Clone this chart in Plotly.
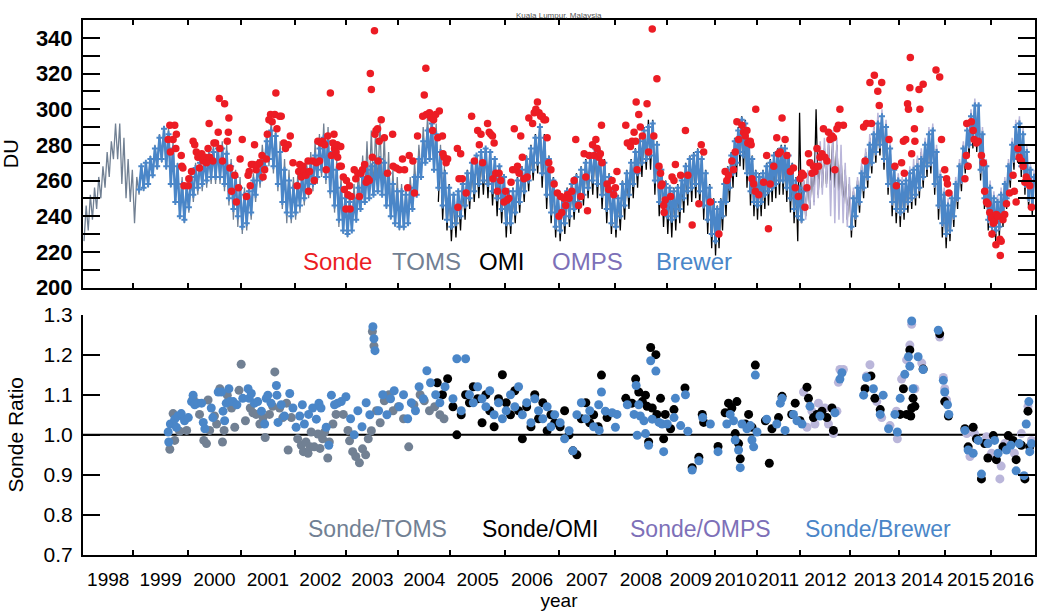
import numpy as np
import plotly.graph_objects as go

# ---------------- axis geometry (year -> axis position, non-uniform as in the original) -------------
YEAR_EDGES = list(range(1998, 2018))
AXIS_EDGES = [0, 50.5, 105, 158.5, 212, 264, 316, 368, 423, 477, 533, 585, 633, 675, 719, 769, 818, 864, 910, 954]
YEAR_LABELS = [str(y) for y in range(1998, 2017)]

# ---------------- satellite / Brewer monthly low-high envelopes (DU) ----------------
toms_start = 1998.0
toms_lo = [226, 232, 238, 244, 250, 256, 262, 272, 272, 258, 250, 248,
           236, 252, 254, 256, 262, 266, 270, 266, 256, 248, 240, 236,
           242, 248, 252, 254, 256, 258, 258, 258, 254, 246, 238, 234,
           230, 232, 238, 248, 256, 264, 268, 264, 254, 244, 236, 236,
           238, 242, 246, 250, 254, 258, 262, 258, 250, 242, 234, 230,
           228, 232, 238, 244, 250, 252, 254, 256, 252, 244, 238, 234,
           232, 232, 236, 244, 252, 262, 270, 272, 266, 256, 248]
toms_hi = [246, 252, 256, 262, 268, 276, 282, 292, 292, 284, 272, 266,
           262, 268, 270, 274, 280, 286, 290, 290, 282, 270, 262, 258,
           266, 270, 274, 276, 278, 280, 282, 282, 280, 272, 266, 262,
           256, 258, 264, 272, 280, 288, 294, 290, 282, 272, 266, 262,
           264, 268, 272, 276, 282, 286, 292, 290, 282, 272, 262, 256,
           252, 258, 266, 274, 282, 288, 290, 292, 286, 276, 266, 262,
           258, 256, 262, 270, 280, 290, 296, 298, 292, 280, 272]

omi_start = 2004.75
omi_lo = [248, 238, 232,
          226, 228, 232, 238, 244, 248, 250, 252, 250, 246, 240, 236,
          228, 230, 236, 242, 248, 254, 260, 264, 256, 244, 236, 228,
          226, 230, 234, 238, 242, 246, 250, 252, 250, 244, 236, 230,
          228, 232, 238, 244, 250, 256, 262, 266, 266, 252, 240, 234,
          230, 228, 232, 236, 242, 246, 248, 250, 246, 238, 230, 222,
          218, 222, 232, 240, 248, 256, 262, 268, 266, 256, 246, 240,
          238, 240, 244, 246, 248, 250, 252, 252, 248, 242, 236, 226,
          236, 240, 244, 248, 252, 256, 258, 260, 256, 250, 244, 238,
          228, 234, 242, 250, 256, 264, 270, 274, 266, 252, 240, 236,
          234, 238, 242, 244, 246, 250, 256, 262, 264, 252, 238, 228,
          222, 226, 234, 244, 254, 264, 274, 278, 276, 260, 244, 232,
          228, 226, 228, 234, 244, 256, 266, 270, 262, 252, 244, 240]
omi_hi = [276, 266, 258,
          252, 254, 260, 266, 270, 274, 276, 278, 276, 272, 266, 262,
          254, 256, 262, 268, 274, 280, 286, 292, 286, 274, 262, 254,
          250, 256, 260, 264, 268, 272, 276, 280, 278, 272, 264, 256,
          252, 260, 266, 272, 278, 284, 290, 294, 294, 282, 268, 260,
          256, 256, 258, 262, 270, 274, 276, 278, 274, 266, 258, 250,
          246, 250, 260, 268, 276, 284, 290, 296, 294, 284, 274, 266,
          264, 266, 270, 272, 276, 278, 280, 280, 276, 270, 262, 298,
          260, 264, 268, 300, 276, 278, 280, 282, 280, 274, 266, 258,
          254, 260, 268, 276, 284, 290, 296, 298, 292, 280, 268, 262,
          260, 262, 266, 268, 272, 276, 282, 288, 290, 278, 264, 254,
          248, 252, 260, 270, 280, 290, 298, 304, 302, 288, 270, 258,
          252, 250, 254, 260, 270, 282, 292, 294, 288, 278, 268, 264]

omps_start = 2012.0
omps_lo = [236, 238, 244, 246, 250, 252, 256, 240, 236, 238, 236, 234,
           232, 238, 246, 254, 260, 268, 274, 278, 270, 256, 246, 242,
           240, 242, 246, 248, 250, 254, 260, 266, 268, 256, 244, 234,
           228, 230, 238, 248, 258, 268, 278, 282, 280, 264, 248, 236,
           232, 230, 232, 238, 248, 260, 270, 274, 266, 256, 248, 244]
omps_hi = [262, 266, 272, 276, 282, 284, 286, 288, 284, 280, 270, 262,
           256, 262, 270, 278, 286, 292, 298, 300, 294, 282, 270, 264,
           262, 264, 268, 272, 274, 278, 284, 290, 292, 280, 266, 256,
           250, 254, 262, 272, 282, 292, 300, 306, 304, 290, 272, 260,
           254, 252, 256, 262, 272, 284, 294, 296, 290, 280, 270, 266]

brewer_start = 1999.0 + 1 / 12
brewer_lo = [255, 256, 258, 263, 268, 272, 268, 258, 248, 240, 238,
             245, 252, 256, 258, 260, 262, 262, 262, 258, 250, 244, 240,
             234, 236, 242, 252, 260, 268, 272, 268, 258, 248, 242, 240,
             242, 246, 250, 254, 258, 262, 266, 262, 254, 246, 238, 232,
             230, 232, 238, 244, 248, 250, 252, 254, 252, 246, 240, 236,
             234, 234, 236, 244, 252, 262, 270, 272, 266, 256, 246, 238,
             234, 236, 240, 246, 250, 254, 258, 260, 258, 254, 250, 244,
             236, 236, 242, 248, 254, 260, 266, 270, 264, 252, 242, 234,
             232, 236, 240, 244, 248, 252, 256, 260, 258, 252, 244, 236,
             234, 240, 246, 252, 258, 264, 270, 272, 274, 260, 248, 242,
             240, 238, 240, 244, 250, 254, 256, 258, 254, 246, 238, 230,
             226, 230, 240, 248, 256, 264, 270, 276, 274, 264, 254, 248,
             246, 248, 252, 254, 256, 258, 260, 260, 256, 250, 244, 240,
             238, None, None, None, None, None, None, None, None, None, None, None,
             234, 240, 248, 256, 262, 270, 276, 280, 272, 258, 248, 244,
             242, 244, 248, 250, 252, 256, 262, 268, 270, 258, 246, 236,
             230, 232, 240, 250, 260, 270, 280, 284, 282, 266, 250, 238,
             234, 232, 234, 240, 250, 262, 272, 276, 268, 258, 250, 246]
brewer_hi = [268, 270, 272, 278, 284, 289, 286, 278, 268, 258, 256,
             262, 267, 270, 272, 274, 276, 278, 278, 275, 268, 262, 256,
             252, 254, 260, 268, 274, 282, 288, 285, 276, 266, 260, 256,
             258, 262, 266, 270, 274, 278, 284, 282, 276, 266, 256, 250,
             248, 250, 256, 262, 266, 268, 270, 272, 270, 264, 258, 254,
             254, 252, 256, 262, 272, 282, 288, 292, 286, 276, 264, 256,
             252, 254, 258, 264, 270, 274, 276, 278, 276, 272, 268, 262,
             254, 254, 260, 266, 272, 278, 284, 290, 284, 272, 260, 252,
             250, 254, 258, 262, 266, 270, 274, 278, 276, 270, 262, 254,
             250, 258, 264, 270, 276, 282, 288, 290, 292, 280, 266, 258,
             256, 254, 256, 260, 268, 272, 274, 276, 272, 264, 256, 248,
             244, 248, 258, 266, 274, 282, 288, 294, 292, 282, 272, 264,
             262, 264, 268, 270, 274, 276, 278, 278, 274, 268, 260, 256,
             254, None, None, None, None, None, None, None, None, None, None, None,
             250, 256, 264, 272, 280, 286, 292, 296, 290, 278, 266, 260,
             258, 260, 264, 266, 268, 272, 280, 286, 288, 276, 262, 252,
             246, 250, 258, 268, 278, 288, 296, 302, 302, 286, 268, 256,
             250, 248, 252, 258, 268, 280, 290, 292, 286, 276, 266, 262]

# ---------------- ozonesonde total column (DU) ----------------
sonde_year = [
    1999.64, 1999.67, 1999.68, 1999.73, 1999.76, 1999.78, 1999.79, 1999.88, 1999.89, 1999.91, 1999.93,
    2000.01, 2000.02, 2000.07, 2000.10, 2000.13, 2000.16, 2000.19, 2000.22, 2000.26, 2000.29, 2000.32,
    2000.35, 2000.38, 2000.40, 2000.41, 2000.47, 2000.49, 2000.52, 2000.57, 2000.59, 2000.60, 2000.65,
    2000.69, 2000.74, 2000.76, 2000.77, 2000.79, 2000.82, 2000.88, 2000.91, 2000.95, 2000.98,
    2001.02, 2001.10, 2001.13, 2001.15, 2001.17, 2001.19, 2001.22, 2001.25, 2001.28, 2001.31, 2001.35,
    2001.39, 2001.41, 2001.44, 2001.47, 2001.49, 2001.52, 2001.55, 2001.58, 2001.63, 2001.65, 2001.67,
    2001.72, 2001.75, 2001.80, 2001.83, 2001.88, 2001.92, 2001.97,
    2002.05, 2002.08, 2002.10, 2002.13, 2002.16, 2002.19, 2002.22, 2002.26, 2002.27, 2002.29, 2002.35,
    2002.38, 2002.42, 2002.45, 2002.48, 2002.51, 2002.54, 2002.58, 2002.61, 2002.64, 2002.69, 2002.71,
    2002.74, 2002.76, 2002.77, 2002.80, 2002.82, 2002.83, 2002.87, 2002.89, 2002.90, 2002.94, 2002.96, 2002.99,
    2003.00, 2003.03, 2003.06, 2003.07, 2003.09, 2003.15, 2003.18, 2003.22, 2003.25, 2003.28, 2003.31,
    2003.35, 2003.38, 2003.41, 2003.44, 2003.46, 2003.48, 2003.50, 2003.54, 2003.55, 2003.57, 2003.60,
    2003.61, 2003.63, 2003.67, 2003.73, 2003.79, 2003.89, 2003.90, 2003.96,
    2004.02, 2004.08, 2004.12, 2004.18, 2004.21, 2004.28, 2004.31, 2004.37, 2004.47, 2004.50, 2004.53,
    2004.54, 2004.60, 2004.63, 2004.66, 2004.68, 2004.72, 2004.76, 2004.79, 2004.85, 2004.86, 2004.88,
    2004.92, 2004.95,
    2005.13, 2005.14, 2005.16, 2005.19, 2005.22, 2005.29, 2005.39, 2005.44, 2005.50, 2005.53, 2005.56,
    2005.59, 2005.68, 2005.71, 2005.74, 2005.77, 2005.78, 2005.80, 2005.83, 2005.86, 2005.89, 2005.92, 2005.98,
    2006.01, 2006.04, 2006.07, 2006.11, 2006.14, 2006.17, 2006.20, 2006.23, 2006.26, 2006.29, 2006.32,
    2006.35, 2006.41, 2006.44, 2006.51, 2006.54, 2006.57, 2006.60, 2006.63, 2006.66, 2006.69, 2006.72,
    2006.75, 2006.78, 2006.81, 2006.85, 2006.91, 2006.97,
    2007.00, 2007.03, 2007.05, 2007.09, 2007.12, 2007.15, 2007.18, 2007.23, 2007.27, 2007.30, 2007.35,
    2007.39, 2007.45, 2007.48, 2007.51, 2007.54, 2007.60, 2007.63, 2007.66, 2007.68, 2007.71, 2007.74,
    2007.76, 2007.77, 2007.86, 2007.89, 2007.95, 2007.98,
    2008.01, 2008.04, 2008.21, 2008.24, 2008.30, 2008.33, 2008.37, 2008.40, 2008.41, 2008.43, 2008.46,
    2008.49, 2008.53, 2008.62, 2008.65, 2008.72, 2008.75, 2008.81, 2008.85, 2008.88, 2008.89, 2008.91,
    2008.94, 2008.95, 2008.97,
    2009.08, 2009.11, 2009.15, 2009.18, 2009.29, 2009.39, 2009.44, 2009.53, 2009.67, 2009.72, 2009.77, 2009.91,
    2010.10, 2010.25, 2010.29, 2010.33, 2010.41, 2010.45, 2010.49, 2010.53, 2010.57, 2010.65, 2010.69,
    2010.73, 2010.77, 2010.79, 2010.85, 2010.87, 2010.89, 2010.93, 2010.97, 2010.98,
    2011.05, 2011.16, 2011.23, 2011.27, 2011.31, 2011.39, 2011.46, 2011.50, 2011.54, 2011.58, 2011.65,
    2011.69, 2011.77, 2011.84, 2011.88, 2011.95, 2011.99,
    2012.03, 2012.06, 2012.09, 2012.13, 2012.16, 2012.19, 2012.23, 2012.26, 2012.29, 2012.33, 2012.36,
    2012.39, 2012.43, 2012.46, 2012.49, 2012.53, 2012.56, 2012.59, 2012.63, 2012.66, 2012.69, 2012.73,
    2012.76, 2012.79, 2012.86,
    2013.27, 2013.30, 2013.33, 2013.40, 2013.43, 2013.49, 2013.56, 2013.59, 2013.64, 2013.79, 2013.91, 2013.94,
    2014.05, 2014.09, 2014.11, 2014.14, 2014.18, 2014.20, 2014.23, 2014.24, 2014.27, 2014.33, 2014.34,
    2014.43, 2014.45, 2014.52, 2014.80, 2014.88, 2014.92, 2014.99,
    2015.03, 2015.05, 2015.08, 2015.43, 2015.46, 2015.47, 2015.50, 2015.57, 2015.61, 2015.63, 2015.68,
    2015.72, 2015.79, 2015.83, 2015.86, 2015.90, 2015.93, 2015.97,
    2016.01, 2016.02, 2016.05, 2016.08, 2016.11, 2016.12, 2016.16, 2016.20, 2016.21, 2016.23, 2016.27,
    2016.31, 2016.35, 2016.42, 2016.50, 2016.53, 2016.57, 2016.61, 2016.64, 2016.69, 2016.73, 2016.77,
    2016.80, 2016.84, 2016.88, 2016.92]
sonde_du = [
    283, 291, 276, 283, 291, 278, 286, 274, 268, 267, 257,
    257, 261, 265, 282, 280, 276, 273, 267, 275, 271, 273,
    270, 278, 292, 273, 271, 281, 281, 287, 306, 278, 271,
    303, 282, 287, 295, 267, 254, 263, 248, 256, 272,
    283, 251, 263, 265, 257, 269, 269, 280, 266, 269, 270,
    274, 262, 266, 272, 286, 294, 297, 293, 297, 309, 289,
    296, 296, 281, 278, 280, 285, 270,
    257, 265, 269, 262, 268, 265, 263, 271, 254, 265, 271,
    260, 270, 282, 271, 281, 282, 280, 266, 285, 309, 274,
    281, 286, 278, 276, 280, 273, 268, 279, 268, 262, 255, 244,
    260, 252, 257, 244, 251, 266, 261, 264, 251, 264, 266,
    269, 259, 261, 260, 320, 311, 273, 344, 286, 288, 289,
    271, 282, 294, 284, 264, 286, 268, 267,
    266, 272, 266, 256, 274, 271, 253, 285, 296, 308, 323,
    297, 298, 295, 288, 294, 297, 284, 299, 285, 275, 273,
    270, 272,
    278, 245, 261, 275, 261, 253, 296, 271, 288, 280, 286,
    270, 292, 287, 286, 285, 261, 281, 264, 254, 264, 260, 248,
    254, 249, 250, 259, 266, 289, 266, 268, 264, 285, 273,
    261, 262, 295, 292, 298, 300, 304, 298, 296, 296, 294,
    294, 284, 270, 266, 258, 253,
    240, 251, 242, 250, 246, 252, 250, 254, 260, 283, 246,
    251, 275, 262, 243, 274, 280, 274, 283, 278, 273, 275,
    291, 270, 258, 255, 260, 252,
    256, 265, 291, 281, 279, 282, 287, 282, 304, 266, 297,
    290, 285, 303, 276, 345, 285, 317, 268, 264, 257, 258,
    246, 242, 249,
    251, 262, 260, 269, 263, 288, 263, 235, 247, 280, 276, 248,
    230, 265, 260, 263, 271, 266, 276, 293, 283, 291, 287,
    285, 288, 281, 282, 280, 261, 258, 254, 300,
    252, 259, 274, 233, 258, 268, 284, 275, 276, 295, 283,
    274, 265, 267, 256, 251, 261,
    264, 263, 245, 256, 275, 270, 264, 268, 265, 278, 268,
    273, 275, 289, 273, 271, 287, 283, 285, 284, 266, 289,
    291, 300, 291,
    290, 271, 292, 315, 292, 319, 310, 302, 315, 283, 268, 257,
    270, 282, 264, 283, 303, 300, 312, 329, 275, 289, 282,
    311, 300, 314, 322, 318, 283, 266,
    261, 258, 253, 261, 274, 292, 268, 293, 288, 283, 281,
    282, 274, 270, 254, 248, 247, 242,
    239, 230, 236, 237, 224, 241, 240, 227, 218, 226, 238,
    241, 247, 253, 263, 254, 248, 278, 273, 271, 268, 259,
    262, 260, 257, 245]

# ---------------- sonde / instrument ratios ----------------
toms_ratio_year = [
    1999.67, 1999.73, 1999.76, 1999.85, 1999.98, 2000.10, 2000.16, 2000.22, 2000.30, 2000.35, 2000.38,
    2000.41, 2000.50, 2000.54, 2000.60, 2000.65, 2000.68, 2000.74, 2000.82, 2000.88, 2000.96, 2001.00,
    2001.08, 2001.17, 2001.22, 2001.28, 2001.35, 2001.41, 2001.45, 2001.53, 2001.59, 2001.63, 2001.72,
    2001.78, 2001.85, 2001.88, 2001.94, 2002.06, 2002.13, 2002.17, 2002.22, 2002.26, 2002.30, 2002.32,
    2002.38, 2002.45, 2002.49, 2002.54, 2002.58, 2002.64, 2002.67, 2002.74, 2002.80, 2002.94, 2003.03,
    2003.06, 2003.12, 2003.18, 2003.25, 2003.31, 2003.37, 2003.42, 2003.48, 2003.50, 2003.53, 2003.58,
    2003.65, 2003.73, 2003.82, 2003.90, 2004.00, 2004.10, 2004.20, 2004.30, 2004.42, 2004.50, 2004.60,
    2004.70, 2004.80, 2004.88]
toms_ratio = [
    0.964, 1.053, 0.986, 1.009, 1.011, 1.091, 1.079, 1.051, 0.986, 0.978, 1.087,
    1.011, 1.047, 1.027, 1.115, 0.982, 1.011, 1.099, 1.067, 1.019, 1.111, 1.176,
    1.035, 1.067, 1.055, 1.051, 1.027, 1.043, 0.993, 1.051, 1.071, 1.157, 1.067,
    1.043, 1.079, 0.962, 1.043, 0.990, 0.974, 0.958, 0.982, 0.954, 0.970, 1.007,
    0.970, 1.002, 0.966, 0.990, 1.007, 0.942, 0.982, 1.027, 1.051, 1.051, 1.011,
    0.985, 0.958, 0.946, 0.930, 0.965, 0.950, 0.990, 1.010, 1.258, 1.222, 1.060,
    1.030, 1.085, 1.100, 1.060, 1.070, 1.040, 0.970, 1.075, 1.100, 1.085, 1.060,
    1.070, 1.050, 1.040]

omi_ratio_year = [
    2004.75, 2004.85, 2004.95, 2005.05, 2005.12, 2005.20, 2005.28, 2005.35, 2005.42, 2005.50, 2005.58,
    2005.65, 2005.72, 2005.80, 2005.88, 2005.95, 2006.02, 2006.10, 2006.18, 2006.25, 2006.32, 2006.40,
    2006.48, 2006.55, 2006.62, 2006.70, 2006.78, 2006.85, 2006.92, 2007.02, 2007.10, 2007.18, 2007.25,
    2007.32, 2007.40, 2007.48, 2007.55, 2007.62, 2007.70, 2007.76, 2007.86,
    2008.21, 2008.33, 2008.40, 2008.46, 2008.53, 2008.59, 2008.62, 2008.65, 2008.69, 2008.72, 2008.79,
    2008.81, 2008.88, 2008.94, 2008.97, 2009.08, 2009.15, 2009.38, 2009.53, 2009.67, 2009.74, 2009.77,
    2010.08, 2010.25, 2010.33, 2010.41, 2010.49, 2010.53, 2010.57, 2010.61, 2010.73, 2010.81, 2010.89,
    2010.97, 2011.20, 2011.29, 2011.35, 2011.50, 2011.58, 2011.80, 2011.88, 2011.99, 2012.13, 2012.16,
    2012.26, 2012.33, 2012.43, 2012.53, 2012.63, 2012.66, 2013.30, 2013.42, 2013.50, 2013.61, 2014.02,
    2014.09, 2014.16, 2014.23, 2014.25, 2014.27, 2014.30, 2014.34, 2014.52, 2014.76, 2014.88, 2014.99,
    2015.07, 2015.43, 2015.50, 2015.61, 2015.68, 2015.79, 2015.86, 2015.93, 2016.05, 2016.12, 2016.27,
    2016.39, 2016.50, 2016.57, 2016.69, 2016.77, 2016.84, 2016.88]
omi_ratio = [
    1.13, 1.10, 1.14, 1.07, 1.00, 1.05, 1.10, 1.08, 1.12, 1.09, 1.03,
    1.10, 1.06, 1.02, 1.09, 1.15, 1.08, 1.05, 1.11, 1.06, 0.99, 1.07,
    1.02, 1.10, 1.04, 1.08, 1.01, 1.05, 1.03, 1.02, 1.06, 1.00, 0.96,
    0.95, 1.04, 1.08, 1.03, 1.05, 1.02, 1.149, 1.043,
    1.091, 1.079, 1.139, 1.107, 1.083, 1.099, 1.071, 0.982, 1.218, 1.067, 1.200,
    1.051, 1.091, 0.990, 1.051, 1.015, 1.063, 1.117, 0.918, 0.944, 1.051, 1.031,
    0.971, 1.055, 1.079, 1.067, 1.003, 1.083, 0.978, 0.940, 1.027, 1.051, 1.019,
    1.174, 1.035, 0.929, 1.015, 1.043, 1.096, 1.051, 1.079, 1.035, 1.119, 1.091,
    1.043, 1.051, 1.059, 1.043, 1.067, 1.011, 1.115, 1.147, 1.091, 1.063, 1.051,
    1.115, 1.051, 1.212, 1.047, 1.067, 1.091, 1.071, 1.164, 1.327, 1.252, 1.083,
    1.047, 1.015, 0.970, 1.019, 0.990, 0.890, 0.978, 0.942, 0.998, 0.938, 0.970,
    0.998, 0.986, 0.938, 0.974, 0.890, 1.059, 0.970]

omps_ratio_year = [
    2012.06, 2012.13, 2012.23, 2012.29, 2012.36, 2012.49, 2012.56, 2012.66, 2012.73, 2012.76, 2012.79,
    2012.86, 2013.33, 2013.40, 2013.54, 2013.64, 2013.81, 2013.94, 2013.96, 2014.05, 2014.16, 2014.23,
    2014.27, 2014.34, 2014.49, 2014.76, 2014.88, 2014.96, 2014.99, 2015.03, 2015.47, 2015.54, 2015.64,
    2015.90, 2016.01, 2016.20, 2016.23, 2016.31, 2016.53, 2016.69, 2016.84, 2016.92]
omps_ratio = [
    1.107, 1.019, 1.059, 1.027, 1.079, 1.067, 1.027, 1.003, 1.059, 1.131, 1.163,
    1.163, 1.147, 1.175, 1.083, 1.043, 1.023, 1.059, 0.990, 1.139, 1.187, 1.224,
    1.276, 1.115, 1.179, 1.313, 1.244, 1.143, 1.115, 1.087, 1.003, 0.946, 1.003,
    0.995, 0.954, 0.890, 0.922, 0.978, 0.954, 1.003, 1.071, 0.986]

brewer_ratio_year = [
    1999.64, 1999.65, 1999.68, 1999.76, 1999.79, 1999.82, 1999.88, 1999.94, 2000.01, 2000.07, 2000.10,
    2000.13, 2000.19, 2000.26, 2000.29, 2000.32, 2000.44, 2000.47, 2000.57, 2000.63, 2000.66, 2000.69,
    2000.72, 2000.77, 2000.79, 2000.85, 2000.92, 2001.03, 2001.13, 2001.15, 2001.19, 2001.25, 2001.31,
    2001.38, 2001.44, 2001.47, 2001.50, 2001.56, 2001.66, 2001.67, 2001.69, 2001.75, 2001.81, 2001.91,
    2001.97, 2002.03, 2002.10, 2002.15, 2002.19, 2002.27, 2002.35, 2002.42, 2002.47, 2002.51, 2002.61,
    2002.66, 2002.71, 2002.77, 2002.83, 2002.90, 2002.99,
    2003.08, 2003.15, 2003.22, 2003.30, 2003.38, 2003.45, 2003.50, 2003.51, 2003.53, 2003.55, 2003.62,
    2003.70, 2003.78, 2003.85, 2003.92, 2004.02, 2004.10, 2004.18, 2004.25, 2004.33, 2004.40, 2004.48,
    2004.55, 2004.62, 2004.72, 2004.80, 2004.90, 2005.05, 2005.12, 2005.20, 2005.28, 2005.35, 2005.42,
    2005.50, 2005.58, 2005.65, 2005.72, 2005.80, 2005.88, 2005.95, 2006.02, 2006.10, 2006.18, 2006.25,
    2006.32, 2006.40, 2006.48, 2006.55, 2006.62, 2006.70, 2006.78, 2006.85, 2006.92, 2007.02, 2007.10,
    2007.18, 2007.25, 2007.32, 2007.40, 2007.48, 2007.55, 2007.62,
    2007.71, 2007.72, 2007.76, 2007.83, 2007.95, 2008.01, 2008.04, 2008.24, 2008.37, 2008.41, 2008.43,
    2008.46, 2008.49, 2008.56, 2008.59, 2008.65, 2008.69, 2008.72, 2008.79, 2008.85, 2008.91, 2008.94,
    2009.01, 2009.15, 2009.18, 2009.29, 2009.39, 2009.44, 2009.53, 2009.67, 2009.75, 2009.91, 2010.08,
    2010.29, 2010.37, 2010.45, 2010.49, 2010.57, 2010.61, 2010.65, 2010.77, 2010.85, 2010.89, 2010.93,
    2010.97, 2011.01, 2011.23, 2011.46, 2011.54, 2011.58, 2011.65, 2011.84, 2011.92, 2012.03, 2012.19,
    2012.39, 2012.69, 2012.79, 2012.83, 2013.27, 2013.33, 2013.47, 2013.61, 2013.67, 2013.78, 2013.91,
    2013.96, 2014.02, 2014.12, 2014.20, 2014.23, 2014.27, 2014.30, 2014.41, 2014.52, 2014.76, 2014.85,
    2014.96, 2014.99, 2015.05, 2015.08, 2015.43, 2015.50, 2015.61, 2015.72, 2015.79, 2015.93, 2016.08,
    2016.16, 2016.35, 2016.45, 2016.57, 2016.64, 2016.75, 2016.80, 2016.86, 2016.88, 2016.92]
brewer_ratio = [
    1.007, 0.982, 1.027, 1.039, 1.019, 1.047, 1.053, 1.035, 1.043, 1.083, 1.099,
    1.075, 1.079, 1.079, 1.031, 1.015, 1.067, 1.043, 1.107, 1.107, 1.059, 1.035,
    1.079, 1.115, 1.083, 1.083, 1.075, 1.091, 1.115, 1.091, 1.103, 1.079, 1.083,
    1.059, 1.027, 1.091, 1.099, 1.079, 1.123, 1.099, 1.031, 1.075, 1.047, 1.103,
    1.067, 1.019, 1.047, 1.075, 1.027, 1.051, 1.067, 1.039, 1.079, 1.067, 1.019,
    0.974, 1.099, 1.075, 1.079, 1.083, 1.095,
    1.04, 1.00, 1.06, 1.02, 1.08, 1.05, 1.306, 1.27, 1.24, 1.21, 1.06,
    1.10, 1.05, 1.09, 1.11, 1.07, 1.10, 1.04, 1.08, 1.06, 1.12, 1.09,
    1.16, 1.13, 1.10, 1.08, 1.12, 1.09, 1.19, 1.06, 1.19, 1.10, 1.08,
    1.12, 1.09, 1.07, 1.11, 1.05, 1.08, 1.04, 1.06, 1.10, 1.07, 1.12,
    1.05, 1.08, 1.03, 1.09, 1.06, 1.04, 1.07, 1.02, 1.05, 1.03, 0.99,
    1.01, 0.96, 1.05, 1.08, 1.04, 1.06, 1.02,
    1.075, 1.011, 1.107, 1.059, 1.055, 1.019, 1.051, 1.075, 1.051, 1.123, 0.999,
    1.075, 1.047, 1.035, 1.003, 0.974, 1.185, 1.039, 1.159, 1.031, 1.027, 0.958,
    1.027, 1.043, 1.091, 1.023, 1.100, 1.009, 0.912, 0.935, 1.043, 1.027, 0.958,
    1.027, 1.051, 1.035, 0.987, 0.962, 0.918, 1.027, 1.015, 1.023, 0.987, 0.970,
    1.149, 1.007, 1.039, 1.027, 1.079, 1.091, 1.011, 1.051, 1.035, 1.027, 1.071,
    1.047, 1.055, 1.139, 1.155, 1.099, 1.143, 1.115, 1.051, 1.099, 1.015, 1.051,
    1.007, 1.091, 1.151, 1.195, 1.171, 1.284, 1.115, 1.195, 1.163, 1.303, 1.261,
    1.136, 1.107, 1.075, 1.051, 1.011, 0.962, 0.954, 0.986, 0.902, 0.978, 0.986,
    0.954, 0.962, 0.974, 0.910, 0.978, 0.898, 1.027, 1.083, 0.958, 0.978]

# ---------------- styling ----------------
FONT = "Liberation Sans, Arial, Helvetica, sans-serif"
C_SONDE = "#EC1C24"
C_TOMS = "#718093"
C_OMI = "#000000"
C_OMPS_LINE = "#BAB6DA"
C_OMPS_TEXT = "#7D70B8"
C_BREWER = "#4A86C8"


def xmap(values):
    out = []
    for v in values:
        out.append(None if v is None else float(np.interp(v, YEAR_EDGES, AXIS_EDGES)))
    return out


def zigzag(start, lo, hi):
    xs, ys = [], []
    for i, (a, b) in enumerate(zip(lo, hi)):
        if a is None or b is None:
            xs.append(None)
            ys.append(None)
            continue
        t = start + i / 12.0
        xs += [t + 1 / 48, t + 3 / 48]
        ys += [a, b]
    return xmap(xs), ys


fig = go.Figure()

# ---- top panel ----
for start, lo, hi, col, w in [(toms_start, toms_lo, toms_hi, C_TOMS, 1.3),
                              (omi_start, omi_lo, omi_hi, C_OMI, 1.3),
                              (omps_start, omps_lo, omps_hi, C_OMPS_LINE, 1.5)]:
    zx, zy = zigzag(start, lo, hi)
    fig.add_trace(go.Scatter(x=zx, y=zy, mode="lines", line=dict(color=col, width=w),
                             xaxis="x", yaxis="y", showlegend=False, hoverinfo="skip"))

bx, by = zigzag(brewer_start, brewer_lo, brewer_hi)
fig.add_trace(go.Scatter(x=bx, y=by, mode="lines+markers", line=dict(color=C_BREWER, width=2.4),
                         marker=dict(symbol="cross", size=5, color=C_BREWER),
                         xaxis="x", yaxis="y", showlegend=False, hoverinfo="skip"))

fig.add_trace(go.Scatter(x=xmap(sonde_year), y=sonde_du, mode="markers",
                         marker=dict(size=7.5, color=C_SONDE), xaxis="x", yaxis="y",
                         showlegend=False, cliponaxis=False))

# ---- bottom panel ----
for yrs, vals, col in [(toms_ratio_year, toms_ratio, C_TOMS),
                       (omps_ratio_year, omps_ratio, C_OMPS_LINE),
                       (omi_ratio_year, omi_ratio, C_OMI),
                       (brewer_ratio_year, brewer_ratio, C_BREWER)]:
    fig.add_trace(go.Scatter(x=xmap(yrs), y=vals, mode="markers",
                             marker=dict(size=9, color=col), xaxis="x2", yaxis="y2",
                             showlegend=False, cliponaxis=False))

mid_pos = xmap([y + 0.5 for y in range(1998, 2017)])
edge_pos = xmap(list(range(1999, 2017)))
xr = [AXIS_EDGES[0], AXIS_EDGES[-1]]

common_x = dict(range=xr, showgrid=False, zeroline=False, showline=True, linecolor="black",
                linewidth=2, tickmode="array", tickvals=mid_pos, ticktext=YEAR_LABELS,
                ticks="", tickangle=0,
                minor=dict(tickmode="array", tickvals=edge_pos, ticks="inside", ticklen=5,
                           tickwidth=1.5, tickcolor="black", showgrid=False))

fig.update_layout(
    width=1045, height=613,
    margin=dict(l=83, r=8, t=10, b=51),
    paper_bgcolor="white", plot_bgcolor="white",
    font=dict(family=FONT, color="black"),
    xaxis=dict(**common_x, anchor="y", mirror="ticks", showticklabels=False),
    xaxis2=dict(**common_x, anchor="y2", mirror=False, showticklabels=True,
                tickfont=dict(size=19, family=FONT, color="black"), ticklabelstandoff=6,
                title=dict(text="year", font=dict(size=19, family=FONT), standoff=2)),
    yaxis=dict(domain=[0.5, 1.0], range=[200, 350], showgrid=False, zeroline=False,
               showline=True, linecolor="black", linewidth=2, mirror="ticks",
               tickmode="array", tickvals=list(range(200, 350, 10)),
               ticktext=[str(v) if v % 20 == 0 else "" for v in range(200, 350, 10)],
               ticks="inside", ticklen=17, tickwidth=1.5, tickcolor="black",
               tickfont=dict(size=22, family=FONT, color="black", weight="bold"), ticklabelstandoff=4,
               title=dict(text="DU", font=dict(size=20, family=FONT), standoff=12)),
    yaxis2=dict(domain=[0.0, 0.4493], range=[0.7, 1.3], showgrid=False, zeroline=False,
                showline=True, linecolor="black", linewidth=2, mirror="ticks",
                tickmode="array", tickvals=[0.7, 0.8, 0.9, 1.0, 1.1, 1.2, 1.3],
                ticktext=["0.7", "0.8", "0.9", "1.0", "1.1", "1.2", "1.3"],
                ticks="inside", ticklen=17, tickwidth=1.5, tickcolor="black",
                tickfont=dict(size=21, family=FONT, color="black"), ticklabelstandoff=4,
                title=dict(text="Sonde Ratio", font=dict(size=21, family=FONT), standoff=14)),
)

fig.add_shape(type="line", xref="x2", yref="y2", x0=xr[0], x1=xr[1], y0=1.0, y1=1.0,
              line=dict(color="black", width=2), layer="below")

top_labels = [("Sonde", C_SONDE, 0.2673), ("TOMS", C_TOMS, 0.3606), ("OMI", C_OMI, 0.4392),
              ("OMPS", C_OMPS_TEXT, 0.5304), ("Brewer", C_BREWER, 0.6415)]
for txt, col, xp in top_labels:
    fig.add_annotation(text=txt, x=xp, y=0.549, xref="paper", yref="paper", showarrow=False,
                       font=dict(size=24, color=col, family=FONT), xanchor="center", yanchor="middle")

bottom_labels = [("Sonde/TOMS", C_TOMS, 0.3092), ("Sonde/OMI", C_OMI, 0.4801),
                 ("Sonde/OMPS", C_OMPS_TEXT, 0.6488), ("Sonde/Brewer", C_BREWER, 0.8354)]
for txt, col, xp in bottom_labels:
    fig.add_annotation(text=txt, x=xp, y=0.049, xref="paper", yref="paper", showarrow=False,
                       font=dict(size=23, color=col, family=FONT), xanchor="center", yanchor="middle")

# title (mostly cropped in the original) kept small so it fits in the top strip
fig.add_annotation(text="Kuala Lumpur, Malaysia", x=0.5, y=1.0, xref="paper", yref="paper",
                   showarrow=False, font=dict(size=8, color="#555555", family=FONT),
                   xanchor="center", yanchor="middle", yshift=5, borderpad=0)

fig.write_html("out.html")
